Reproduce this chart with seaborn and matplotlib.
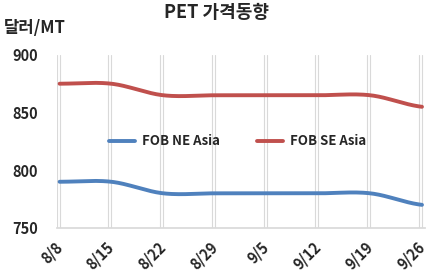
import numpy as np
import pandas as pd
import matplotlib
matplotlib.use("Agg")
import matplotlib.pyplot as plt
import seaborn as sns

dates = ["8/8", "8/15", "8/22", "8/29", "9/5", "9/12", "9/19", "9/26"]
ne_asia = [790, 790, 780, 780, 780, 780, 780, 770]
se_asia = [875, 875, 865, 865, 865, 865, 865, 855]
series_names = ["FOB NE Asia", "FOB SE Asia"]
colors = ["#4F81BD", "#C0504D"]

sns.set_theme(style="white")
plt.rcParams['font.family'] = ['Noto Sans CJK KR', 'DejaVu Sans']


def catmull_rom(y, n=30):
    # smoothed rendering (like Excel smoothed line) through the data points
    y = np.asarray(y, float)
    p = np.concatenate([[y[0]], y, [y[-1]]])
    xs, ys = [], []
    for i in range(len(y) - 1):
        p0, p1, p2, p3 = p[i], p[i + 1], p[i + 2], p[i + 3]
        t = np.linspace(0, 1, n, endpoint=False)
        yy = 0.5 * ((2 * p1) + (-p0 + p2) * t + (2 * p0 - 5 * p1 + 4 * p2 - p3) * t ** 2
                    + (-p0 + 3 * p1 - 3 * p2 + p3) * t ** 3)
        xs.append(i + t)
        ys.append(yy)
    xs.append([len(y) - 1])
    ys.append([y[-1]])
    return np.concatenate(xs), np.concatenate(ys)


frames = []
for name, vals in zip(series_names, [ne_asia, se_asia]):
    xs, ys = catmull_rom(vals)
    frames.append(pd.DataFrame({"x": xs, "y": ys, "series": name}))
df = pd.concat(frames)

fig = plt.figure(figsize=(4.32, 2.8), dpi=100)
ax = fig.add_axes([0.132, 0.186, 0.852, 0.618])

for i in range(len(dates)):
    ax.axvline(i, color="#D9D9D9", lw=0.8, zorder=0)
    ax.axvline(i - 0.06, color="#D9D9D9", lw=0.8, zorder=0)

sns.lineplot(data=df, x="x", y="y", hue="series", palette=colors,
             linewidth=2.8, ax=ax, sort=False, estimator=None)

ax.set_xlim(-0.05, 7.06)
ax.set_ylim(750, 900)
ax.set_yticks([750, 800, 850, 900])
ax.set_xticks(range(len(dates)))
ax.set_xticklabels(dates, rotation=45, ha="right", va="center", rotation_mode="anchor",
                   fontsize=10.5, fontweight="bold")
for lab in ax.get_yticklabels():
    lab.set_fontweight("bold")
    lab.set_fontsize(10.5)
ax.tick_params(axis="y", length=0, pad=14)
ax.tick_params(axis="x", length=0, pad=12)
ax.set_xlabel("")
ax.set_ylabel("")
for s in ["left", "right", "top"]:
    ax.spines[s].set_visible(False)
ax.spines["bottom"].set_color("#D9D9D9")

leg = ax.legend(loc="center", bbox_to_anchor=(0.49, 0.5), ncol=2, frameon=False,
                prop={"weight": "bold", "size": 9.5}, handlelength=2.0,
                handletextpad=0.5, columnspacing=2.8)
for h in leg.get_lines():
    h.set_linewidth(2.8)

fig.text(0.5, 0.955, "PET 가격동향", ha="center", va="center",
         fontsize=13, fontweight="bold")
fig.text(0.008, 0.9, "달러/MT", ha="left", va="center",
         fontsize=12, fontweight="bold")

fig.savefig("out.png", dpi=100)
